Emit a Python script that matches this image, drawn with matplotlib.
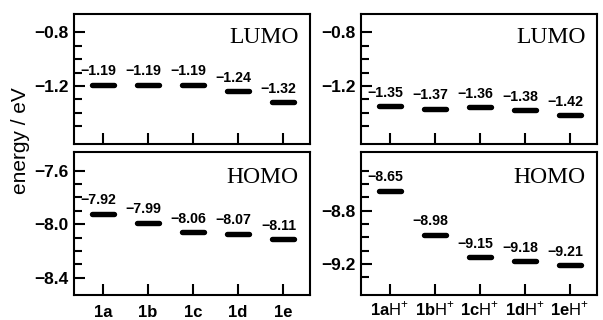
"""Frontier orbital energies of 1a-1e and their protonated forms."""

import matplotlib

matplotlib.use("Agg")

import matplotlib.pyplot as plt  # noqa: E402
import numpy as np  # noqa: E402
from matplotlib.ticker import FixedLocator  # noqa: E402


NEUTRAL_LABELS = ["1a", "1b", "1c", "1d", "1e"]
PROTONATED_LABELS = [
    r"$\mathbf{1a}\mathrm{H}^{+}$",
    r"$\mathbf{1b}\mathrm{H}^{+}$",
    r"$\mathbf{1c}\mathrm{H}^{+}$",
    r"$\mathbf{1d}\mathrm{H}^{+}$",
    r"$\mathbf{1e}\mathrm{H}^{+}$",
]
LUMO_NEUTRAL = [-1.19, -1.19, -1.19, -1.24, -1.32]
HOMO_NEUTRAL = [-7.92, -7.99, -8.06, -8.07, -8.11]
LUMO_PROTONATED = [-1.35, -1.37, -1.36, -1.38, -1.42]
HOMO_PROTONATED = [-8.65, -8.98, -9.15, -9.18, -9.21]

plt.rcParams["font.family"] = ["Liberation Sans", "DejaVu Sans"]
plt.rcParams["mathtext.fontset"] = "custom"
plt.rcParams["mathtext.rm"] = "Liberation Sans"
plt.rcParams["mathtext.bf"] = "Liberation Sans:bold"
plt.rcParams["axes.linewidth"] = 1.5

W, H = 603, 320
LEFT_X, RIGHT_X, AX_W = 74, 361, 236


def _axes(fig, x0, y_top, y_bottom):
    return fig.add_axes(
        (x0 / W, 1 - y_bottom / H, AX_W / W, (y_bottom - y_top) / H)
    )


def _panel(ax, values, ylim, majors, title, xlabels=None, xpad=7):
    x = np.arange(1, len(values) + 1)
    for xi, v in zip(x, values):
        ax.plot([xi - 0.24, xi + 0.24], [v, v], color="black",
                linewidth=3.9, solid_capstyle="round")
        ax.annotate(f"{v:.2f}".replace("-", "\u2212"), (xi, v),
                    xytext=(-3.2, 6.8), textcoords="offset points",
                    ha="center", va="baseline", fontsize=10.2,
                    fontweight="bold")
    ax.set_xlim(0.36, 5.6)
    ax.set_ylim(*ylim)
    ax.set_xticks(x)
    if xlabels is None:
        ax.set_xticklabels([])
    else:
        ax.set_xticklabels(xlabels, fontsize=12, fontweight="bold")
    ax.set_yticks(majors)
    ax.set_yticklabels([f"{m:.1f}".replace("-", "\u2212") for m in majors],
                       fontsize=12.5, fontweight="bold")
    lo, hi = ylim
    minors = np.round(np.arange(np.ceil(lo * 10), np.floor(hi * 10) + 1) / 10, 1)
    minors = [m for m in minors if lo + 0.05 < m < hi - 0.05]
    ax.yaxis.set_minor_locator(FixedLocator(minors))
    ax.tick_params(axis="both", which="major", direction="in", length=8,
                   width=1.5, pad=4)
    ax.tick_params(axis="x", which="major", pad=xpad)
    ax.tick_params(axis="y", which="minor", direction="in", length=5.5,
                   width=1.5)
    ax.text(0.953, 0.78, title, transform=ax.transAxes, ha="right",
            va="baseline", fontsize=17, family="Liberation Serif")


fig = plt.figure(figsize=(W / 100, H / 100), dpi=100)

ax = _axes(fig, LEFT_X, 14, 144)
_panel(ax, LUMO_NEUTRAL, (-1.633, -0.663), [-0.8, -1.2], "LUMO")
ax = _axes(fig, LEFT_X, 152, 295)
_panel(ax, HOMO_NEUTRAL, (-8.529, -7.46), [-7.6, -8.0, -8.4], "HOMO",
       NEUTRAL_LABELS)
ax = _axes(fig, RIGHT_X, 14, 144)
_panel(ax, LUMO_PROTONATED, (-1.633, -0.663), [-0.8, -1.2], "LUMO")
ax = _axes(fig, RIGHT_X, 152, 295)
_panel(ax, HOMO_PROTONATED, (-9.433, -8.36), [-8.8, -9.2], "HOMO",
       PROTONATED_LABELS, xpad=3.5)

fig.text(21 / W, 1 - 141 / H, "energy / eV", rotation=90, ha="center",
         va="center", fontsize=15)

fig.savefig("out.png", dpi=100, facecolor="white")
